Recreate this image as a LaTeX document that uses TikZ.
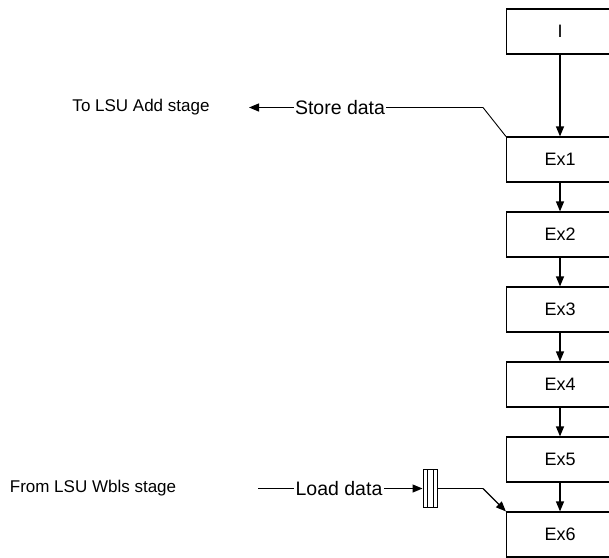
\documentclass[tikz,border=0pt]{standalone}
\usepackage{fontspec}
\setmainfont{Liberation Sans}
\usetikzlibrary{arrows.meta}
\begin{document}
\begin{tikzpicture}[x=1pt,y=-1pt,
  stage/.style={draw,line width=1.2pt,minimum width=107pt,minimum height=45pt,inner sep=0pt,font=\fontsize{18}{20}\selectfont},
  lbl/.style={font=\fontsize{17}{19}\selectfont,inner sep=1pt},
  wlbl/.style={font=\fontsize{19.5}{21}\selectfont,fill=white,inner sep=1.5pt},
  conn/.style={line width=1.2pt,-{Triangle[length=10pt,width=8pt]}},
  plainline/.style={line width=1.2pt}]
\useasboundingbox (0,0) rectangle (609,557);
\clip (0,0) rectangle (609,557);
\node[stage] (I) at (560,31.5) {I};
\node[stage] (e1) at (560,159.5) {Ex1};
\node[stage] (e2) at (560,234.5) {Ex2};
\node[stage] (e3) at (560,309.5) {Ex3};
\node[stage] (e4) at (560,384.5) {Ex4};
\node[stage] (e5) at (560,459.5) {Ex5};
\node[stage] (e6) at (560,534.5) {Ex6};
\draw[conn] (I) -- (e1);
\draw[conn] (e1) -- (e2);
\draw[conn] (e2) -- (e3);
\draw[conn] (e3) -- (e4);
\draw[conn] (e4) -- (e5);
\draw[conn] (e5) -- (e6);
% store data
\node[lbl] (tolsu) at (141,107) {To LSU Add stage};
\coordinate (sbend) at (483,107.5);
\coordinate (stip) at (249,107.5);
\draw[line width=0.9pt] (e1.north west) -- (sbend);
\draw[conn] (sbend) -- (stip);
\node[wlbl] (sd) at (340,107.5) {Store data};
% load data
\node[lbl] (fromlsu) at (93,488) {From LSU Wbls stage};
\coordinate (lstart) at (258,488.5);
\node[draw,line width=1pt,minimum width=14pt,minimum height=38pt,inner sep=0pt] (latch) at (430,488.5) {};
\draw[line width=1pt] ([xshift=4.5pt]latch.north west) -- ([xshift=4.5pt]latch.south west);
\draw[line width=1pt] ([xshift=-4.5pt]latch.north east) -- ([xshift=-4.5pt]latch.south east);
\draw[conn] (lstart) -- (latch.west);
\node[wlbl] (ld) at (339,488.5) {Load data};
\coordinate (lbend) at (483,488.5);
\draw[plainline] (latch.east) -- (lbend);
\draw[conn] (lbend) -- (e6.north west);
\end{tikzpicture}
\end{document}
